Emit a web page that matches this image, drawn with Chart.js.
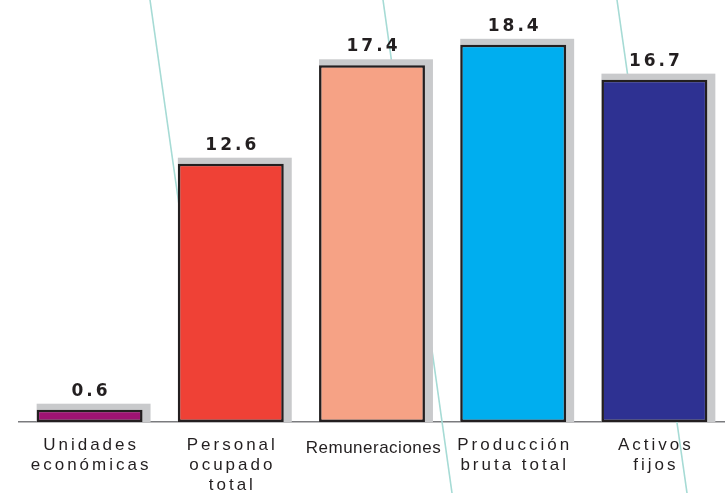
<!DOCTYPE html>
<html>
<head>
<meta charset="utf-8">
<script src="https://cdn.jsdelivr.net/npm/chart.js@4"></script>
<style>
  html, body { margin: 0; padding: 0; background: #fff; }
  #wrap { width: 725px; height: 493px; position: relative; }
</style>
</head>
<body>
<div id="wrap"><canvas id="chart"></canvas></div>
<script>
// data
var categories = [
    ['Unidades', 'económicas'],
    ['Personal', 'ocupado', 'total'],
    ['Remuneraciones'],
    ['Producción', 'bruta total'],
    ['Activos', 'fijos']
];
var values = [0.6, 12.6, 17.4, 18.4, 16.7];
var barColors = ['#9e1373', '#ef4136', '#f6a285', '#00aeef', '#2e3192'];

var TEXT = '#231f20';

// decorative diagonal teal strokes behind the bars
var strokes = [
    [150, 0, 208, 410],
    [383, 0, 452, 493],
    [617, 0, 687, 493]
];

var decoPlugin = {
    id: 'deco',
    beforeDatasetsDraw: function(chart) {
        var ctx = chart.ctx;
        ctx.save();
        ctx.strokeStyle = '#a6dbd5';
        ctx.lineWidth = 1.6;
        strokes.forEach(function(s) {
            ctx.beginPath();
            ctx.moveTo(s[0], s[1]);
            ctx.lineTo(s[2], s[3]);
            ctx.stroke();
        });
        // gray drop shadow behind each bar
        ctx.fillStyle = '#c9cacc';
        chart.getDatasetMeta(0).data.forEach(function(bar) {
            var left = bar.x - bar.width / 2;
            ctx.fillRect(left, bar.y - 6, bar.width + 8, bar.base - bar.y + 6);
        });
        ctx.restore();
    },
    afterDraw: function(chart) {
        var ctx = chart.ctx;
        var xs = chart.scales.x;
        ctx.save();
        ctx.fillStyle = TEXT;
        ctx.textAlign = 'center';
        // value labels
        ctx.font = 'bold 17px "DejaVu Sans"';
        ctx.letterSpacing = '3px';
        ctx.textBaseline = 'alphabetic';
        chart.getDatasetMeta(0).data.forEach(function(bar, i) {
            ctx.fillText(values[i].toFixed(1), bar.x + 1.5, bar.y - 14);
        });
        // category labels
        ctx.font = '17px "Liberation Sans"';
        categories.forEach(function(lines, i) {
            var x = xs.getPixelForTick(i);
            ctx.letterSpacing = lines[0] === 'Remuneraciones' ? '0.5px' : '3px';
            var y0 = lines.length === 1 ? 453 : 450;
            lines.forEach(function(t, k) {
                ctx.fillText(t, x + 1.5, y0 + k * 20);
            });
        });
        ctx.restore();
    }
};

var ctx = document.getElementById('chart').getContext('2d');
var chart = new Chart(ctx, {
    type: 'bar',
    data: {
        labels: categories,
        datasets: [{
            data: values,
            backgroundColor: barColors,
            borderColor: TEXT,
            borderWidth: 2.5,
            borderSkipped: false,
            categoryPercentage: 1,
            barPercentage: 0.75
        }]
    },
    options: {
        responsive: true,
        maintainAspectRatio: false,
        animation: false,
        layout: { padding: { top: 12, bottom: 63, left: 19, right: 0 } },
        plugins: {
            legend: { display: false },
            tooltip: { enabled: false }
        },
        scales: {
            x: {
                grid: { display: false },
                ticks: { display: false },
                border: { display: true, color: '#7a7b7e', width: 1.5 }
            },
            y: {
                display: false,
                min: 0,
                max: 20
            }
        }
    },
    plugins: [decoPlugin]
});
</script>
</body>
</html>
